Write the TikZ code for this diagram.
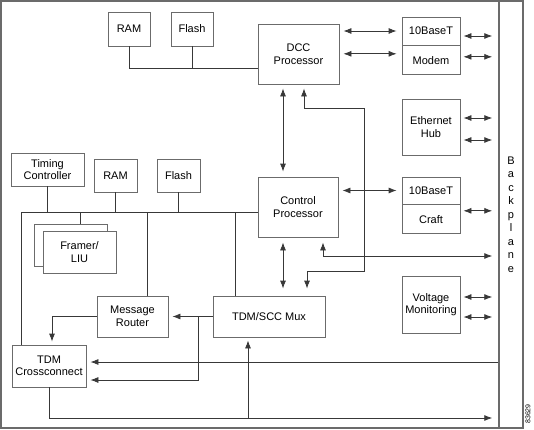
\documentclass[tikz,border=0pt]{standalone}
\usepackage{fontspec}
\setmainfont{Liberation Sans}
\usetikzlibrary{arrows.meta, positioning}
\definecolor{boxgray}{gray}{0.42}
\definecolor{wiregray}{gray}{0.22}

\begin{document}
\begin{tikzpicture}[
    x=1pt, y=-1pt,
    font=\fontsize{11}{12.5}\selectfont,
    box/.style={draw=boxgray, fill=white, line width=0.8pt, align=center, inner sep=0pt},
    wire/.style={draw=wiregray, line width=0.8pt},
    arr/.style={wire, -{Latex[length=8pt, width=6pt]}},
    both/.style={wire, {Latex[length=8pt, width=6pt]}-{Latex[length=8pt, width=6pt]}},
    frame/.style={draw=boxgray, line width=1.5pt}]

\useasboundingbox (0,0) rectangle (534,429);

% Card outline and backplane
\draw[frame] (1,1) rectangle (523,428);
\node[frame, minimum width=24pt, minimum height=427pt, align=center, inner sep=0pt,
      font=\fontsize{11}{13.5}\selectfont] (bp) at (511,214.5) {B\\a\\c\\k\\p\\l\\a\\n\\e};
\node[font=\fontsize{7}{8}\selectfont, rotate=90] (fignum) at (528,414) {83629};

% DCC side
\node[box, minimum width=42pt, minimum height=34pt] (ram1) at (129,29) {RAM};
\node[box, minimum width=42pt, minimum height=34pt] (flash1) at (192,29) {Flash};
\node[box, minimum width=81pt, minimum height=60pt] (dcc) at (298.5,54) {DCC\\Processor};
\node[box, minimum width=58pt, minimum height=28pt] (base1) at (431,31) {10BaseT};
\node[box, minimum width=58pt, minimum height=29pt, below=0pt of base1] (modem) {Modem};
\node[box, minimum width=58pt, minimum height=56pt] (hub) at (431,127) {Ethernet\\Hub};

% Control side
\node[box, minimum width=80pt, minimum height=60pt] (ctrl) at (298,207) {Control\\Processor};
\node[box, minimum width=58pt, minimum height=27pt] (base2) at (431,190.5) {10BaseT};
\node[box, minimum width=58pt, minimum height=29pt, below=0pt of base2] (craft) {Craft};
\node[box, minimum width=58pt, minimum height=57pt] (volt) at (431,304.5) {Voltage\\Monitoring};

% TDM side
\node[box, minimum width=73pt, minimum height=33pt] (timing) at (47.5,169.5) {Timing\\Controller};
\node[box, minimum width=43pt, minimum height=33pt] (ram2) at (115.5,175.5) {RAM};
\node[box, minimum width=43pt, minimum height=33pt] (flash2) at (178.5,175.5) {Flash};
\node[box, minimum width=73pt, minimum height=42pt] (framerb) at (70.5,245) {};
\node[box, minimum width=73pt, minimum height=42pt] (framer) at (79.5,252) {Framer/\\LIU};
\node[box, minimum width=71pt, minimum height=41pt] (msgr) at (132.5,316.5) {Message\\Router};
\node[box, minimum width=112pt, minimum height=41pt] (mux) at (269,316.5) {TDM/SCC Mux};
\node[box, minimum width=74pt, minimum height=42pt] (xconn) at (49,366) {TDM\\Crossconnect};

% Bend points
\coordinate (dccbus) at ([yshift=-14pt]dcc.west);
\coordinate (bus) at (21,212);
\coordinate (loopt) at (364,108);
\coordinate (loopb) at (364,271);
\coordinate (cpbp) at (323,256);
\coordinate (split) at (198,316.5);
\coordinate (bot) at (49,418);

% DCC memory bus
\draw[wire] (ram1.south) |- (dccbus);
\draw[wire] (flash1.south) -- (flash1.south |- dccbus);

% Processor bus
\draw[wire] (xconn.north -| bus) -- (bus) -- (bus -| ctrl.west);
\foreach \n in {timing, ram2, flash2}
    \draw[wire] (\n.south) -- (\n.south |- bus);
\coordinate (frtap) at ([xshift=9.5pt]framerb.north);
\coordinate (mrtap) at ([xshift=14.5pt]msgr.north);
\coordinate (mxtap) at ([xshift=-34pt]mux.north);
\foreach \t in {frtap, mrtap, mxtap}
    \draw[wire] (\t) -- (\t |- bus);

% Links to the backplane
\foreach \n/\dy in {base1/-5, modem/3.5, hub/9, hub/-13, craft/8.5, volt/7.5, volt/-12.5} {
    \coordinate (out) at ([yshift=\dy pt]\n.east);
    \draw[both, shorten <=3pt, shorten >=6pt] (out) -- (out -| bp.west);
}

% DCC processor links
\coordinate (mdin) at ([yshift=6.5pt]modem.west);
\draw[both, shorten <=4pt, shorten >=5pt] (dcc.east |- base1.west) -- (base1.west);
\draw[both, shorten <=4pt, shorten >=5pt] (dcc.east |- mdin) -- (mdin);
\coordinate (dccdn) at ([xshift=-15.5pt]dcc.south);
\draw[both, shorten <=4pt, shorten >=5pt] (dccdn) -- (dccdn |- ctrl.north);
\coordinate (dccup) at ([xshift=5.5pt]dcc.south);
\coordinate (muxin) at ([xshift=38pt]mux.north);
\draw[both, shorten <=4pt, shorten >=7pt] (dccup) |- (loopt) -- (loopb) -| (muxin);

% Control processor links
\draw[both, shorten <=4pt, shorten >=5pt] (ctrl.east |- base2.west) -- (base2.west);
\coordinate (cpdn) at ([xshift=-15pt]ctrl.south);
\draw[both, shorten <=5pt, shorten >=7pt] (cpdn) -- (cpdn |- mux.north);
\coordinate (cpout) at ([xshift=25pt]ctrl.south);
\draw[both, shorten <=5pt, shorten >=6pt] (cpout) |- (cpbp -| bp.west);

% TDM paths
\draw[arr, shorten >=4pt] (mux.west) -- (msgr.east);
\coordinate (xcin2) at ([yshift=-14pt]xconn.east);
\draw[arr, shorten >=4pt] (split) |- (xcin2);
\coordinate (xctop) at ([xshift=3pt]xconn.north);
\draw[arr, shorten >=3pt] (msgr.west) -| (xctop);
\coordinate (xcin1) at ([yshift=4pt]xconn.east);
\draw[arr, shorten >=4pt] (xcin1 -| bp.west) -- (xcin1);
\draw[arr, shorten >=6pt] (xconn.south) |- (bot -| bp.west);
\coordinate (muxbot) at ([xshift=-21pt]mux.south);
\draw[arr, shorten >=3pt] (muxbot |- bot) -- (muxbot);

\end{tikzpicture}
\end{document}
